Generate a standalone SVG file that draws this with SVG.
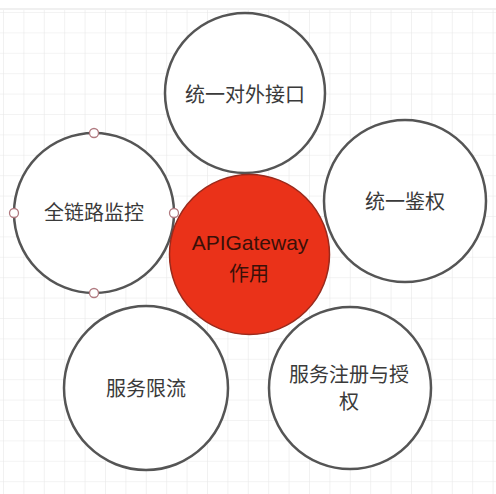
<svg xmlns="http://www.w3.org/2000/svg" width="496" height="494" viewBox="0 0 496 494">
  <defs>
    <pattern id="grid" x="3" y="12" width="20.4" height="20.4" patternUnits="userSpaceOnUse">
      <path d="M 0 0 L 20.4 0 M 0 0 L 0 20.4" fill="none" stroke="#e8e8e8" stroke-width="1.2"/>
    </pattern>
    <style>
      .node { fill: #ffffff; stroke: #555555; stroke-width: 2.5; }
      .core { fill: #ea3219; stroke: #9a2a1c; stroke-width: 1.5; }
      .label { font-family: "Noto Sans CJK SC", "Liberation Sans", sans-serif; font-size: 20px; fill: #3a3a3a; text-anchor: middle; }
      .core-label { font-family: "Liberation Sans", "Noto Sans CJK SC", sans-serif; font-size: 21px; fill: #3a1008; text-anchor: middle; }
      .core-cjk { font-family: "Noto Sans CJK SC", "Liberation Sans", sans-serif; font-size: 20px; fill: #3a1008; text-anchor: middle; }
      .handle { fill: #ffffff; stroke: #b07a80; stroke-width: 1.3; }
    </style>
  </defs>
  <rect x="0" y="0" width="496" height="494" fill="#ffffff"/>
  <rect x="0" y="8" width="496" height="2" fill="#f0f0f0"/>
  <rect x="0" y="10" width="496" height="484" fill="url(#grid)"/>

  <g id="connectors"></g>

  <g id="node-top">
    <circle class="node" cx="245" cy="93" r="80"/>
    <text class="label" x="245" y="102">统一对外接口</text>
  </g>
  <g id="node-left">
    <circle class="node" cx="94" cy="213" r="80"/>
    <text class="label" x="94" y="220">全链路监控</text>
    <circle class="handle" cx="94" cy="133" r="4.5"/>
    <circle class="handle" cx="14" cy="213" r="4.5"/>
    <circle class="handle" cx="174" cy="213" r="4.5"/>
    <circle class="handle" cx="94" cy="293" r="4.5"/>
  </g>
  <g id="node-right">
    <circle class="node" cx="405" cy="201" r="81"/>
    <text class="label" x="405" y="209">统一鉴权</text>
  </g>
  <g id="node-bottom-left">
    <circle class="node" cx="146" cy="388" r="82"/>
    <text class="label" x="146" y="396">服务限流</text>
  </g>
  <g id="node-bottom-right">
    <circle class="node" cx="350" cy="388" r="81"/>
    <text class="label" x="349" y="382">服务注册与授</text>
    <text class="label" x="349" y="409">权</text>
  </g>
  <g id="node-center">
    <circle class="core" cx="249.5" cy="254.5" r="80"/>
    <text class="core-label" x="250" y="250" fill="#3a1008">APIGateway</text>
    <text class="core-cjk" x="249" y="281" fill="#3a1008">作用</text>
  </g>
</svg>
